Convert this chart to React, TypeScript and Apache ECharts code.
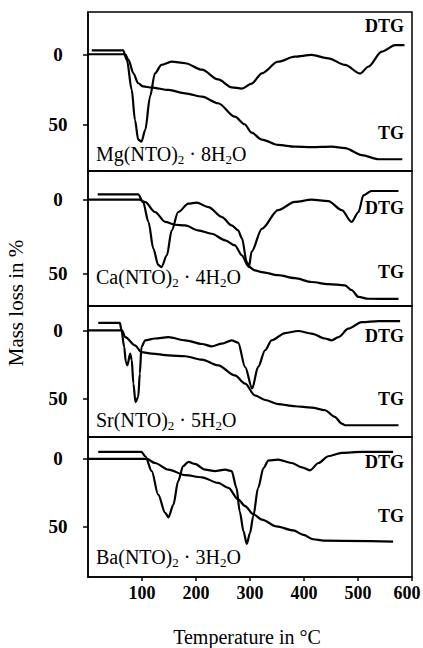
import React, { useEffect, useRef } from "react";
import * as echarts from "echarts";

const xTicks = [100, 200, 300, 400, 500, 600];
const yTicks = [0, 50];

const mgTG: number[][] = [[0,0],[69,0],[75,4],[84,13.6],[93,20.7],[102,23],[118,23.8],[149,25.5],[180,27.9],[211,30.3],[241,35],[272,44.6],[290,50],[303,56],[322,61],[352,64.8],[383,66],[414,66.4],[451,66],[476,67],[507,72],[538,75],[582,75]];
const mgDTG: number[][] = [[7,-2.8],[65,-2.8],[72,4],[81,25.5],[87,47],[93,61],[99,62.4],[106,54],[115,30],[124,13.6],[136,7.6],[155,5.3],[180,6.4],[211,11],[241,18],[266,23.6],[285,24.5],[303,21],[322,13.6],[352,5.3],[383,1.7],[414,0.5],[445,2.9],[476,7.6],[504,13.8],[519,8.9],[544,-1.9],[569,-6.6],[586,-6.6]];

const caTG: number[][] = [[0,0],[95,0],[106,1.6],[124,8.3],[143,15],[161,16.9],[180,17.3],[204,20.7],[229,23],[254,27.4],[272,30.8],[285,37.6],[297,45],[309,47.7],[322,48.9],[352,51],[383,53],[414,55.6],[445,57],[476,57.8],[488,61],[501,65.7],[519,66.9],[575,67]];
const caDTG: number[][] = [[18,-3.6],[93,-3.6],[102,1.6],[112,15],[121,33],[130,44],[136,45.5],[146,37.6],[155,20.7],[167,8.3],[186,2.7],[201,2],[223,5],[248,11.7],[266,17.3],[278,20.7],[285,26],[294,42],[298,45.5],[303,35],[322,19.6],[352,7],[383,1.5],[414,0],[445,1],[470,7],[488,15],[501,8.3],[510,-3],[525,-5.9],[575,-5.9]];

const srTG: number[][] = [[0,0],[63,0],[69,5],[87,11],[99,16],[118,17],[149,18.3],[180,19],[211,21.5],[241,25.6],[272,33],[291,39],[309,47.6],[328,51],[352,54],[383,55.6],[414,56.6],[439,58.5],[457,63.4],[470,68.3],[476,69.5],[575,69.5]];
const srDTG: number[][] = [[19,-5.4],[59,-5.4],[62,0],[67,12],[70,23],[73,25.6],[78,17],[81,21.7],[84,39],[88,52.5],[93,48.8],[96,31.7],[99,12],[106,7.3],[124,6],[149,5],[180,7.3],[211,10],[229,11.7],[248,9.8],[266,7.3],[278,9],[291,27],[304,42.5],[315,26.8],[328,14.6],[340,7.3],[365,2],[389,0.5],[414,2.4],[439,6],[451,7.3],[464,5],[482,-1.2],[507,-6],[538,-6.8],[578,-6.8]];

const baTG: number[][] = [[0,0],[109,0],[124,3],[149,7.9],[180,12],[211,13.6],[241,17.8],[260,21.5],[278,30],[291,35],[306,41],[322,45],[349,50],[380,53],[399,56.4],[417,59.6],[436,60.6],[565,61.3]];
const baDTG: number[][] = [[19,-5.2],[99,-5.2],[106,-2],[118,9],[130,26.5],[143,40],[149,43.3],[158,34],[167,16.5],[176,5.4],[186,2.2],[198,3.7],[217,7.9],[235,9],[254,7.9],[266,9],[275,21.5],[281,39],[288,53.7],[294,63],[300,55],[306,42.5],[315,21.5],[325,6.7],[334,1.2],[352,0.5],[377,3],[396,6.2],[411,8.4],[427,3],[445,-2],[470,-4.5],[507,-5.2],[565,-5.2]];

const formulas = [
  "Mg(NTO){s|2} · 8H{s|2}O",
  "Ca(NTO){s|2} · 4H{s|2}O",
  "Sr(NTO){s|2} · 5H{s|2}O",
  "Ba(NTO){s|2} · 3H{s|2}O",
];
const tgData = [mgTG, caTG, srTG, baTG];
const dtgData = [mgDTG, caDTG, srDTG, baDTG];

// layout (pixels)
const panels = [
  { top: 12, height: 159, yMin: -30.2, yMax: 83.4, dtgY: 26, tgY: 133, fY: 154 },
  { top: 171, height: 135, yMin: -19.4, yMax: 71.8, dtgY: 208, tgY: 272, fY: 277 },
  { top: 306, height: 131, yMin: -17.8, yMax: 78.1, dtgY: 336, tgY: 399, fY: 420 },
  { top: 437, height: 140, yMin: -16.3, yMax: 87.6, dtgY: 462, tgY: 516, fY: 557 },
];

const FONT = "'Liberation Serif', 'DejaVu Serif', serif";

export default function App() {
  const ref = useRef<HTMLDivElement>(null);
  useEffect(() => {
    if (!ref.current) return;
    const chart = echarts.init(ref.current, undefined, { renderer: "svg" });
    const last = panels.length - 1;
    const series: any[] = [];
    panels.forEach((_, i) => {
      series.push({
        type: "line", xAxisIndex: i, yAxisIndex: i, data: tgData[i],
        showSymbol: false, smooth: 0.3, smoothMonotone: "x",
        lineStyle: { color: "#000", width: 2.2 },
      });
      series.push({
        type: "line", xAxisIndex: i, yAxisIndex: i, data: dtgData[i],
        showSymbol: false, smooth: 0.3, smoothMonotone: "x",
        lineStyle: { color: "#000", width: 2.2 },
      });
    });
    const graphic: any[] = [];
    panels.forEach((p, i) => {
      graphic.push({
        type: "text", z: 100,
        style: { x: 404, y: p.dtgY, text: "DTG", fontFamily: FONT, fontSize: 18, fontWeight: "bold", fill: "#000", align: "right", verticalAlign: "middle" },
      });
      graphic.push({
        type: "text", z: 100,
        style: { x: 404, y: p.tgY, text: "TG", fontFamily: FONT, fontSize: 18, fontWeight: "bold", fill: "#000", align: "right", verticalAlign: "middle" },
      });
      graphic.push({
        type: "text", z: 100,
        style: {
          x: 96, y: p.fY, text: formulas[i], fontFamily: FONT, fontSize: 20, fill: "#000",
          align: "left", verticalAlign: "middle", lineHeight: 24,
          rich: { s: { fontFamily: FONT, fontSize: 13, lineHeight: 13, verticalAlign: "bottom", fill: "#000" } },
        },
      });
    });
    graphic.push({
      type: "text",
      style: { x: 247, y: 637, text: "Temperature in °C", fontFamily: FONT, fontSize: 20, fill: "#000", align: "center", verticalAlign: "middle" },
    });
    graphic.push({
      type: "text", x: 16, y: 303, rotation: Math.PI / 2,
      style: { x: 0, y: 0, text: "Mass loss in %", fontFamily: FONT, fontSize: 21, fill: "#000", align: "center", verticalAlign: "middle" },
    });

    chart.setOption({
      animation: false,
      backgroundColor: "#fff",
      grid: panels.map((p) => ({
        left: 88, width: 324, top: p.top, height: p.height,
        show: true, borderColor: "#000", borderWidth: 1.5,
        containLabel: false, outerBoundsMode: "none",
      })),
      xAxis: panels.map((_, i) => ({
        type: "value", gridIndex: i, min: 0, max: 600,
        axisLine: { show: true, onZero: false, lineStyle: { color: "#000", width: 1.5 } },
        axisTick: { show: i === last, customValues: xTicks, length: 4, lineStyle: { color: "#000", width: 1.5 } },
        axisLabel: {
          show: i === last, customValues: xTicks, fontFamily: FONT, fontSize: 18, fontWeight: "bold", color: "#000", margin: 7,
          formatter: (v: number) => (v === 600 ? "{r|600}" : String(v)),
          rich: { r: { fontFamily: FONT, fontSize: 18, fontWeight: "bold", color: "#000", padding: [0, 10, 0, 0] } },
        },
        splitLine: { show: false },
      })),
      yAxis: panels.map((p, i) => ({
        type: "value", gridIndex: i, inverse: true, min: p.yMin, max: p.yMax,
        axisLine: { show: true, onZero: false, lineStyle: { color: "#000", width: 1.5 } },
        axisTick: { show: true, customValues: yTicks, length: 5, lineStyle: { color: "#000", width: 1.5 } },
        axisLabel: { show: true, customValues: yTicks, fontFamily: FONT, fontSize: 19, fontWeight: "bold", color: "#000", margin: 30, align: "center" },
        splitLine: { show: false },
      })),
      series,
      graphic,
    });
    return () => chart.dispose();
  }, []);
  return <div ref={ref} style={{ width: 423, height: 648, position: "absolute", left: 0, top: 0 }} />;
}
